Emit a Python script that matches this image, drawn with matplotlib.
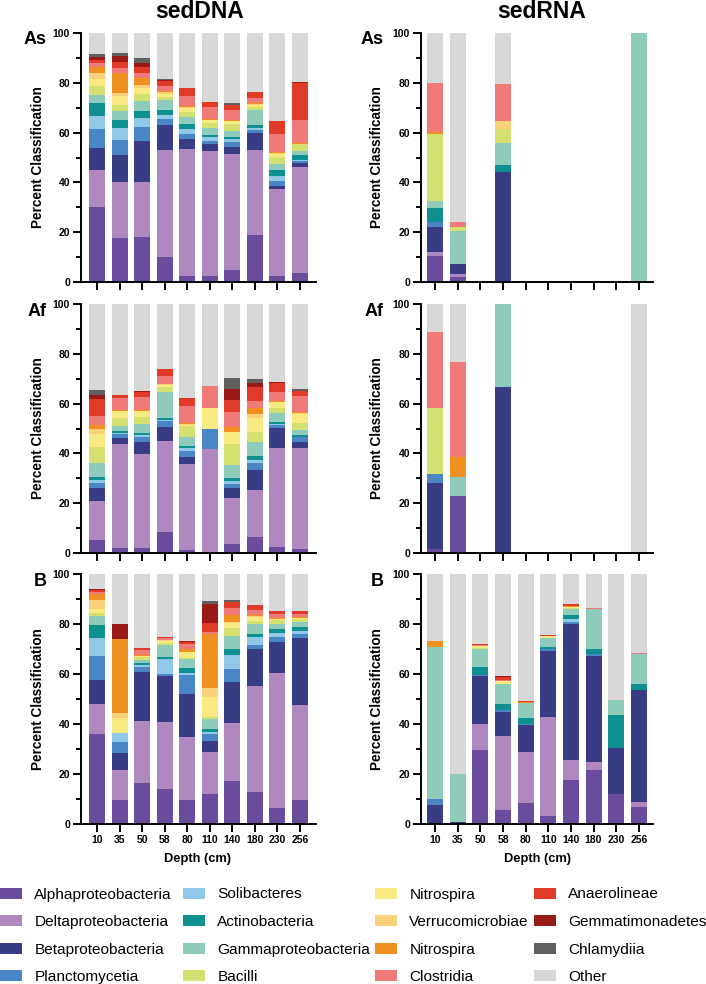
import numpy as np
import matplotlib.pyplot as plt
from matplotlib.patches import Patch
from matplotlib.ticker import MultipleLocator

plt.rcParams['font.family'] = ['Liberation Sans', 'DejaVu Sans']

depths = ['10', '35', '50', '58', '80', '110', '140', '180', '230', '256']

taxa = ['Alphaproteobacteria', 'Deltaproteobacteria', 'Betaproteobacteria', 'Planctomycetia',
        'Solibacteres', 'Actinobacteria', 'Gammaproteobacteria', 'Bacilli',
        'Nitrospira', 'Verrucomicrobiae', 'Nitrospira', 'Clostridia',
        'Anaerolineae', 'Gemmatimonadetes', 'Chlamydiia', 'Other']

colors = ['#6a4c9c', '#b088c0', '#373c84', '#4a86c6',
          '#90c8e8', '#0f8f8f', '#8ecbbb', '#d4e070',
          '#f8ea80', '#fad17a', '#f09020', '#f07a78',
          '#e03a28', '#9a1a18', '#606060', '#d8d8d8']

# one row per depth, one value per taxon (same order as taxa), percent
as_dna = [
    [30.2, 14.7, 8.8, 7.7, 5.4, 4.9, 3.6, 3.3, 2.8, 2.7, 2.1, 1.7, 1.2, 1.3, 1.3, 8.3],
    [17.5, 22.7, 10.7, 6.2, 4.8, 3.1, 3.6, 2.3, 3.9, 1.2, 8.0, 1.8, 2.5, 2.6, 1.2, 7.9],
    [18.2, 22.0, 16.5, 5.6, 3.7, 2.8, 3.8, 2.8, 2.7, 0.9, 2.8, 2.2, 2.4, 1.6, 2.0, 10.0],
    [9.9, 43.1, 10.0, 2.3, 1.7, 2.0, 4.0, 1.4, 1.3, 0.5, 0.4, 2.0, 2.0, 0.4, 0.4, 18.6],
    [2.3, 51.2, 4.0, 2.0, 1.8, 2.1, 3.0, 1.8, 1.8, 0.4, 0.4, 4.0, 3.3, 0, 0, 21.9],
    [2.5, 50.1, 2.7, 1.4, 1.4, 1.0, 2.6, 2.2, 1.0, 0.1, 0.4, 4.8, 2.2, 0, 0, 27.6],
    [4.7, 46.6, 3.0, 1.8, 1.2, 1.0, 2.4, 2.6, 1.2, 0.3, 0.2, 3.9, 2.0, 0.3, 0.5, 28.3],
    [18.7, 34.3, 6.8, 1.2, 0.9, 1.1, 5.9, 1.5, 0.8, 0.2, 0.3, 2.3, 2.4, 0, 0, 23.6],
    [2.5, 34.9, 1.3, 2.0, 1.9, 2.4, 2.4, 2.9, 1.2, 0.3, 0.3, 7.4, 5.0, 0.3, 0, 35.2],
    [3.6, 42.6, 1.5, 0.8, 0.6, 2.0, 1.5, 2.7, 0.2, 0.1, 0.1, 9.5, 14.9, 0.4, 0, 19.5],
]

as_rna = [
    [10.3, 1.8, 10.1, 1.8, 0, 5.9, 2.7, 26.8, 0, 0, 0.8, 19.6, 0, 0, 0, 20.2],
    [1.9, 1.4, 4.0, 0, 0, 0, 13.3, 1.6, 0, 0, 0, 2.0, 0, 0, 0, 75.8],
    [0] * 16,
    [0, 0, 44.2, 0, 0, 2.7, 8.9, 5.7, 0, 3.3, 0, 14.8, 0, 0, 0, 20.4],
    [0] * 16,
    [0] * 16,
    [0] * 16,
    [0] * 16,
    [0] * 16,
    [0, 0, 0, 0, 0, 0, 100, 0, 0, 0, 0, 0, 0, 0, 0, 0],
]

af_dna = [
    [5.2, 15.6, 5.3, 2.1, 1.0, 1.5, 5.4, 6.4, 5.2, 2.0, 1.8, 3.6, 6.7, 1.5, 2.0, 34.7],
    [1.9, 41.8, 2.3, 1.6, 0.7, 0.6, 2.2, 3.2, 2.7, 0.2, 0.1, 4.9, 1.2, 0, 0, 36.6],
    [1.9, 37.8, 4.9, 2.0, 0.9, 0.6, 3.8, 2.7, 2.4, 0.2, 0.2, 5.3, 1.9, 0.3, 0, 35.1],
    [8.3, 36.7, 5.8, 2.1, 0.5, 0.9, 10.3, 2.0, 1.0, 0.2, 0.2, 3.0, 2.9, 0, 0, 26.1],
    [1.1, 34.6, 3.0, 2.1, 1.2, 0.8, 3.6, 4.8, 0.3, 0.4, 0.4, 6.8, 3.1, 0, 0, 37.8],
    [0, 41.7, 0, 8.3, 0, 0, 0, 0, 8.2, 0, 0, 8.8, 0, 0, 0, 33.0],
    [3.8, 18.3, 4.0, 1.6, 1.1, 1.4, 5.1, 8.5, 4.7, 0.2, 2.0, 6.0, 4.8, 4.3, 4.4, 29.8],
    [6.4, 18.8, 8.2, 2.8, 1.3, 1.4, 5.7, 3.9, 5.7, 1.8, 2.2, 2.7, 5.7, 1.6, 1.8, 30.0],
    [2.5, 39.6, 8.0, 1.4, 0.5, 0.5, 3.7, 2.0, 2.4, 0.2, 0.3, 3.6, 3.5, 0.4, 0, 31.4],
    [1.5, 40.5, 2.5, 1.9, 0.3, 0.5, 2.1, 3.0, 3.6, 0.3, 0.4, 6.4, 1.9, 0.3, 0.6, 34.2],
]

af_rna = [
    [1.6, 0, 26.4, 3.9, 0, 0, 0, 26.4, 0, 0, 0, 30.6, 0, 0, 0, 11.1],
    [22.9, 0, 0, 0, 0, 0, 7.7, 0, 0, 0, 7.9, 38.4, 0, 0, 0, 23.1],
    [0] * 16,
    [0, 0, 66.6, 0, 0, 0, 33.4, 0, 0, 0, 0, 0, 0, 0, 0, 0],
    [0] * 16,
    [0] * 16,
    [0] * 16,
    [0] * 16,
    [0] * 16,
    [0, 0, 0, 0, 0, 0, 0, 0, 0, 0, 0, 0, 0, 0, 0, 100],
]

b_dna = [
    [36.0, 12.0, 9.5, 9.7, 7.2, 5.3, 3.6, 1.0, 1.8, 3.5, 2.5, 0.7, 0.8, 0.3, 0, 6.1],
    [9.6, 12.1, 6.7, 4.4, 3.6, 0, 0, 0, 5.9, 2.2, 29.4, 0.2, 0, 5.8, 0, 20.1],
    [16.5, 24.7, 19.7, 1.8, 0.8, 0.8, 1.4, 1.0, 0.5, 0.2, 0.3, 2.0, 0.7, 0, 0, 29.6],
    [13.9, 26.8, 18.6, 0.7, 5.9, 0.8, 4.8, 0.8, 0.9, 0.4, 0.2, 0.5, 0.4, 0, 0, 25.3],
    [9.6, 25.3, 17.1, 7.7, 0.7, 1.9, 3.7, 0.3, 2.4, 0.3, 0.9, 2.1, 0.7, 0.4, 0, 26.9],
    [12.1, 16.7, 4.4, 2.8, 0.7, 1.3, 4.1, 0.6, 8.1, 3.5, 21.8, 0.6, 3.7, 7.6, 1.2, 10.8],
    [17.1, 23.4, 16.2, 5.2, 5.8, 2.2, 5.3, 3.2, 2.0, 0.5, 2.7, 2.7, 2.5, 0.2, 0.6, 10.4],
    [12.7, 42.4, 14.8, 1.8, 3.0, 1.4, 3.9, 1.2, 1.5, 0.4, 0.4, 2.0, 2.2, 0, 0, 12.3],
    [6.4, 54.1, 12.3, 1.9, 1.7, 1.5, 2.0, 1.7, 0.3, 0.2, 0.2, 1.7, 1.2, 0, 0, 14.8],
    [9.6, 37.9, 26.9, 1.6, 1.3, 1.4, 2.0, 1.3, 0.4, 0.2, 0.2, 1.2, 1.2, 0, 0, 14.8],
]

b_rna = [
    [0, 0, 7.5, 2.5, 0, 0, 60.7, 0, 0, 0, 2.5, 0, 0, 0, 0, 26.8],
    [0, 0, 0.8, 0, 0, 0, 19.3, 0, 0, 0, 0, 0, 0, 0, 0, 79.9],
    [29.5, 10.6, 19.0, 0.5, 0, 3.1, 7.4, 0.3, 0.7, 0, 0.2, 0.3, 0.3, 0, 0, 28.1],
    [5.5, 29.8, 9.6, 0.7, 0, 2.4, 8.0, 0, 1.2, 0, 0.2, 0.2, 1.3, 0.3, 0, 40.8],
    [8.5, 20.3, 10.9, 0.3, 0, 2.3, 6.0, 0, 0.3, 0, 0.3, 0, 0.4, 0, 0, 50.7],
    [3.2, 39.6, 26.5, 0.7, 0, 0.7, 3.8, 0, 0.6, 0, 0.2, 0, 0.4, 0, 0, 24.3],
    [17.6, 8.0, 54.3, 1.0, 1.0, 1.6, 2.6, 0.3, 0.6, 0, 0.4, 0, 0.7, 0, 0, 11.9],
    [21.7, 3.1, 42.5, 0.6, 0, 2.1, 16.1, 0, 0, 0, 0, 0.4, 0, 0, 0, 13.5],
    [12.0, 0, 18.5, 0, 0, 13.2, 5.8, 0, 0, 0, 0, 0, 0, 0, 0, 50.5],
    [6.9, 1.8, 45.0, 0, 0, 2.4, 11.8, 0, 0, 0, 0, 0.5, 0, 0, 0, 31.6],
]

W, H = 706, 984


def px_x(p):
    return p / W


def px_y(p):
    return 1 - p / H


def draw_panel(rect, data, show_xlabels, xlim):
    ax = fig.add_axes(rect)
    vals = np.array(data, dtype=float)
    x = np.arange(len(depths))
    base = np.zeros(len(depths))
    for i in range(len(taxa)):
        ax.bar(x, vals[:, i], bottom=base, width=0.71, color=colors[i], linewidth=0)
        base += vals[:, i]
    ax.set_xlim(*xlim)
    ax.set_ylim(0, 100)
    for s in ['top', 'right']:
        ax.spines[s].set_visible(False)
    for s in ['left', 'bottom']:
        ax.spines[s].set_linewidth(1.4)
    ax.yaxis.set_major_locator(MultipleLocator(20))
    ax.yaxis.set_minor_locator(MultipleLocator(10))
    ax.set_xticks(x)
    ax.set_xticklabels(depths if show_xlabels else [])
    ax.tick_params(axis='both', which='major', length=6, width=1.4, labelsize=7.5, pad=2)
    ax.tick_params(axis='y', which='minor', length=3.5, width=1.4)
    for lab in ax.get_xticklabels() + ax.get_yticklabels():
        lab.set_fontweight('bold')
    ax.set_ylabel('Percent Classification', fontsize=9.8, fontweight='bold')
    return ax


fig = plt.figure(figsize=(W / 100, H / 100), dpi=100)

rows = [(33, 282, 'As', as_dna, as_rna),
        (304, 553, 'Af', af_dna, af_rna),
        (574, 824, 'B', b_dna, b_rna)]

for k, (top, bot, tag, dna, rna) in enumerate(rows):
    last = k == len(rows) - 1
    h = (bot - top) / H
    ax1 = draw_panel([px_x(81), px_y(bot), px_x(316 - 81), h], dna, last, (-0.71, 9.71))
    ax1.yaxis.set_label_coords(-0.153, 0.5)
    ax2 = draw_panel([px_x(421), px_y(bot), px_x(653 - 421), h], rna, last, (-0.63, 9.63))
    ax2.yaxis.set_label_coords(-0.16, 0.5)
    fig.text(px_x(47), px_y(top + 7), tag, ha='right', va='center', fontsize=13, fontweight='bold')
    fig.text(px_x(384), px_y(top + 7), tag, ha='right', va='center', fontsize=13, fontweight='bold')

fig.text(px_x(200), px_y(12), 'sedDNA', ha='center', va='center', fontsize=16.5, fontweight='bold')
fig.text(px_x(542), px_y(12), 'sedRNA', ha='center', va='center', fontsize=16.5, fontweight='bold')
fig.text(px_x(198), px_y(859), 'Depth (cm)', ha='center', va='center', fontsize=9.3, fontweight='bold')
fig.text(px_x(537), px_y(859), 'Depth (cm)', ha='center', va='center', fontsize=9.3, fontweight='bold')

# legend: four single-column blocks so each column sits where it does in the source
handles = [Patch(facecolor=c, edgecolor='none') for c in colors]
col_x = [0, 183, 375, 534]
for c, x0 in enumerate(col_x):
    sl = slice(4 * c, 4 * c + 4)
    fig.legend(handles[sl], taxa[sl], loc='upper left', bbox_to_anchor=(px_x(x0), px_y(887.5)),
               ncol=1, frameon=False, fontsize=11.1, borderpad=0, borderaxespad=0,
               handlelength=1.43, handleheight=0.72, handletextpad=0.8,
               labelspacing=0.88)

fig.savefig('out.png', dpi=100)
